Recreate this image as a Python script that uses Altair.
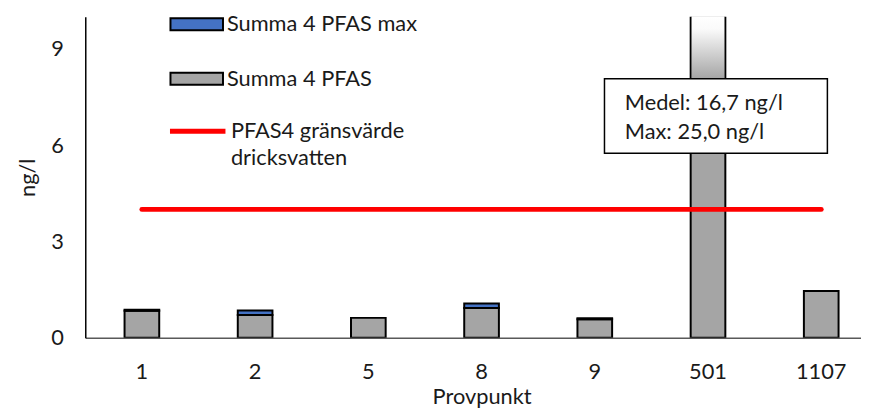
import altair as alt
import pandas as pd

# ---- data ----
provpunkt = ["1", "2", "5", "8", "9", "501", "1107"]
summa_pfas = [0.84, 0.71, 0.62, 0.93, 0.58, 16.7, 1.46]
summa_pfas_max = [0.87, 0.85, 0.62, 1.07, 0.61, 25.0, 1.46]
series_names = ["Summa 4 PFAS max", "Summa 4 PFAS"]
series_colors = ["#4472c4", "#a5a5a5"]
limit_label = "PFAS4 gränsvärde\ndricksvatten"
limit_value = 4.0
y_ticks = [0, 3, 6, 9]
y_max = 10
note_point = "501"
note_box = [5.75, 8.07]  # ng/l span of the annotation box

FONT = "Lato"
TXT = "#1a1a1a"
FS = 22

rows = []
for p, s, m in zip(provpunkt, summa_pfas, summa_pfas_max):
    rows.append({"Provpunkt": p, "serie": series_names[1], "value": s, "ord": 0})
    extra = round(m - s, 3)
    if extra > 0:
        rows.append({"Provpunkt": p, "serie": series_names[0], "value": extra, "ord": 1})
bars_df = pd.DataFrame(rows)

x_scale = alt.Scale(domain=provpunkt, range=[0, 800], paddingInner=0, paddingOuter=0)
x_axis = alt.Axis(labelAngle=0, ticks=False, tickSize=0, labelPadding=24,
                  labelFontSize=FS, labelColor=TXT, domainColor="#595959", domainWidth=1.5,
                  titleFontSize=FS, titleFontWeight="normal", titleColor=TXT,
                  titleY=59, titleBaseline="middle")
y_scale = alt.Scale(domain=[0, y_max], nice=False)
y_axis = alt.Axis(values=y_ticks, grid=False, ticks=False, tickSize=0, labelPadding=22,
                  labelFontSize=FS, labelColor=TXT, domainColor="#000000", domainWidth=1.5,
                  titleFontSize=FS, titleFontWeight="normal", titleColor=TXT,
                  titleAngle=-90, titleX=-58, titleY=162, titleBaseline="middle",
                  titleAlign="center")

def X(field="Provpunkt:N"):
    return alt.X(field, scale=x_scale, axis=x_axis, title="Provpunkt", sort=provpunkt)

def Y(field="value:Q", stack=None):
    if stack:
        return alt.Y(field, scale=y_scale, axis=y_axis, title="ng/l", stack="zero")
    return alt.Y(field, scale=y_scale, axis=y_axis, title="ng/l")

bars = alt.Chart(bars_df).mark_bar(size=35, stroke="black", strokeWidth=2, clip=True).encode(
    x=X(),
    y=Y(stack=True),
    fill=alt.Fill("serie:N", scale=alt.Scale(domain=series_names, range=series_colors),
                  legend=alt.Legend(orient="none", legendX=85, legendY=-20, title=None,
                                    symbolType="M-1,-0.23H1V0.23H-1Z", symbolSize=2809,
                                    symbolStrokeColor="black", symbolStrokeWidth=2,
                                    symbolOpacity=1, labelFontSize=FS, labelColor=TXT,
                                    labelFont=FONT, labelOffset=3, rowPadding=16,
                                    labelLimit=400)),
    order=alt.Order("ord:Q"),
)

limit_df = pd.DataFrame({"Provpunkt": [provpunkt[0]], "Provpunkt_end": [provpunkt[-1]],
                         "value": [limit_value], "serie": [limit_label]})
rule = alt.Chart(limit_df).mark_rule(strokeWidth=5, strokeCap="round").encode(
    x=X(),
    x2="Provpunkt_end:N",
    y=Y(),
    stroke=alt.Stroke("serie:N", scale=alt.Scale(domain=[limit_label], range=["#ff0000"]),
                      legend=alt.Legend(orient="none", legendX=83, legendY=85, title=None,
                                        symbolType="stroke", symbolSize=3136,
                                        symbolStrokeWidth=5, labelFontSize=FS,
                                        labelColor=TXT, labelFont=FONT, labelOffset=3,
                                        labelLimit=400,
                                        labelExpr="split(datum.label, '\\n')")),
)

grad_df = pd.DataFrame({"Provpunkt": [note_point], "value": [note_box[1]], "value2": [y_max]})
grad = alt.Chart(grad_df).mark_bar(
    size=33,
    color=alt.LinearGradient(gradient="linear",
                             stops=[alt.GradientStop(color="#ffffff", offset=0),
                                    alt.GradientStop(color="#fafafa", offset=0.2),
                                    alt.GradientStop(color="#a5a5a5", offset=1)],
                             x1=0, x2=0, y1=0, y2=1),
).encode(x=X(), y=Y(), y2="value2:Q")

idx = provpunkt.index(note_point)
note_df = pd.DataFrame({"Provpunkt": [note_point], "value": [note_box[0]],
                        "value2": [note_box[1]],
                        "medel": [summa_pfas[idx]], "maxv": [summa_pfas_max[idx]]})
box = alt.Chart(note_df).mark_bar(size=225, xOffset=8, fill="white", stroke="black",
                                  strokeWidth=1.5).encode(x=X(), y=Y(), y2="value2:Q")
text = alt.Chart(note_df).transform_calculate(
    label="'Medel: ' + replace(format(datum.medel, '.1f'), '.', ',') + ' ng/l\\nMax: ' + "
          "replace(format(datum.maxv, '.1f'), '.', ',') + ' ng/l'"
).mark_text(align="left", baseline="middle", dx=-84, dy=25, fontSize=FS, font=FONT,
            color=TXT, lineBreak="\n", lineHeight=29).encode(
    x=X(), y=Y("value2:Q"), text="label:N")

chart = alt.layer(bars, rule, grad, box, text).resolve_legend(
    fill="independent", stroke="independent"
).properties(
    width=783, height=324,
    autosize=alt.AutoSizeParams(type="none"),
    padding={"left": 78, "top": 7, "right": 0, "bottom": 69},
    background="white",
).configure(font=FONT, style={"guide-label": {"lineHeight": 27}}).configure_view(stroke=None)

chart.save("out.html", embed_options={"renderer": "svg", "actions": False})
